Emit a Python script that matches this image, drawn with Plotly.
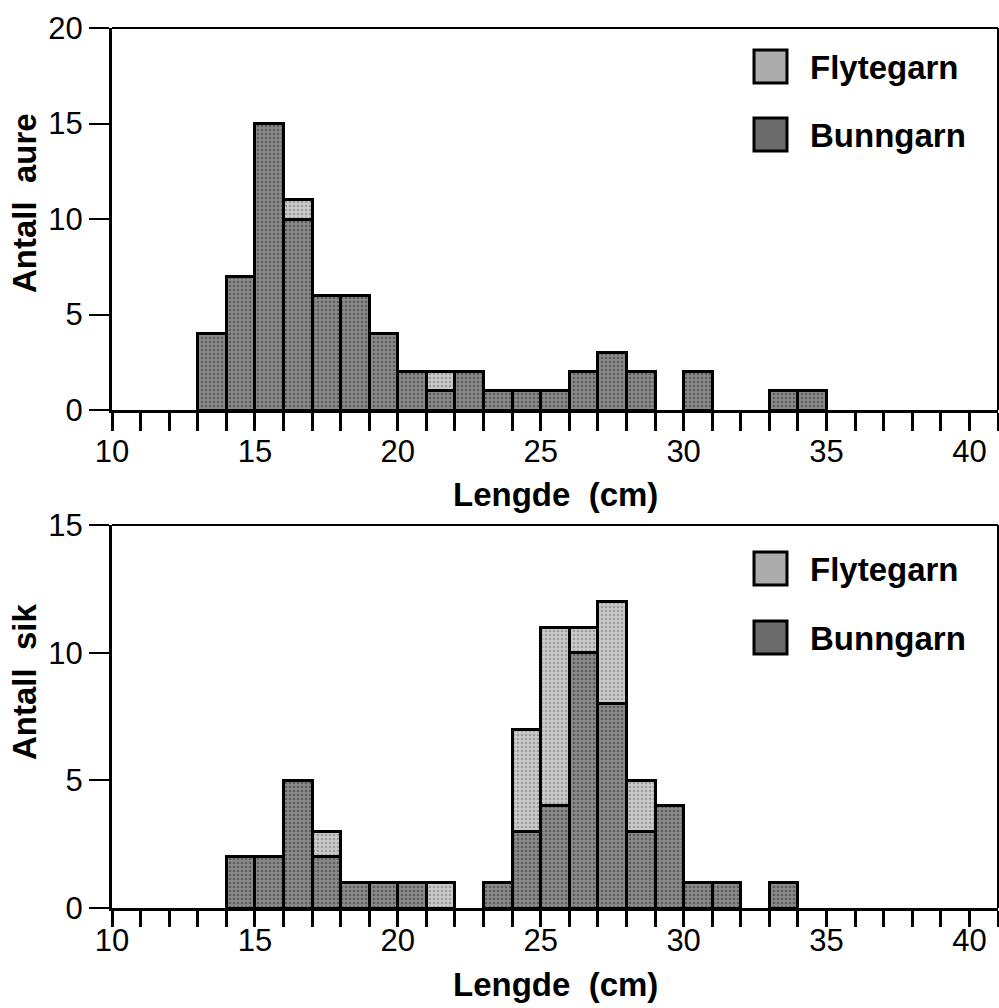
import plotly.graph_objects as go
from plotly.subplots import make_subplots

# ---- data ----
bins_aure = list(range(13, 35))  # bin left edges (cm)
aure_bunngarn = [4, 7, 15, 10, 6, 6, 4, 2, 1, 2, 1, 1, 1, 2, 3, 2, 0, 2, 0, 0, 1, 1]
aure_flytegarn = [0, 0, 0, 1, 0, 0, 0, 0, 1, 0, 0, 0, 0, 0, 0, 0, 0, 0, 0, 0, 0, 0]

bins_sik = list(range(14, 34))
sik_bunngarn = [2, 2, 5, 2, 1, 1, 1, 0, 0, 1, 3, 4, 10, 8, 3, 4, 1, 1, 0, 1]
sik_flytegarn = [0, 0, 0, 1, 0, 0, 0, 1, 0, 0, 4, 7, 1, 4, 2, 0, 0, 0, 0, 0]

x_ticks = [10, 15, 20, 25, 30, 35, 40]
legend_names = ["Flytegarn", "Bunngarn"]
x_title = "Lengde\u00a0\u00a0(cm)"
y_titles = ["Antall\u00a0\u00a0aure", "Antall\u00a0\u00a0sik"]

# ---- style ----
C_BUNN = "#6b6b6b"
C_FLYTE = "#acacac"
PAT_BUNN = dict(shape=".", fgcolor="#2e2e2e", bgcolor="#8a8a8a", size=4, solidity=0.35)
PAT_FLYTE = dict(shape=".", fgcolor="#6e6e6e", bgcolor="#cbcbcb", size=4, solidity=0.35)
FONT = "Liberation Sans, Arial, sans-serif"
TICK_SIZE = 31
BOLD_SIZE = 33

W, H = 999, 1008
ML, MR, MT, MB = 112, 1, 28, 100
PW, PH = W - ML - MR, H - MT - MB


def px_x(px):
    return (px - ML) / PW


def px_y(py):
    return (H - MB - py) / PH


fig = make_subplots(rows=2, cols=1)

def add_hist(row, bins, bunn, flyte):
    centers = [b + 0.5 for b in bins]
    fig.add_trace(go.Bar(x=centers, y=[v if v else None for v in bunn], width=1,
                         marker=dict(color=C_BUNN, pattern=PAT_BUNN,
                                     line=dict(color="black", width=3)),
                         name=legend_names[1], showlegend=False), row=row, col=1)
    fig.add_trace(go.Bar(x=centers, y=[v if v else None for v in flyte], width=1,
                         marker=dict(color=C_FLYTE, pattern=PAT_FLYTE,
                                     line=dict(color="black", width=3)),
                         name=legend_names[0], showlegend=False), row=row, col=1)

add_hist(1, bins_aure, aure_bunngarn, aure_flytegarn)
add_hist(2, bins_sik, sik_bunngarn, sik_flytegarn)

fig.update_layout(barmode="stack", width=W, height=H,
                  margin=dict(l=ML, r=MR, t=MT, b=MB),
                  plot_bgcolor="white", paper_bgcolor="white",
                  font=dict(family=FONT, color="black"))

xax = dict(range=[10, 41], tickvals=x_ticks, ticks="outside", ticklen=18, tickwidth=3,
           tickcolor="black", showline=True, linewidth=3, linecolor="black",
           showgrid=False, zeroline=False, tickfont=dict(size=TICK_SIZE, family=FONT),
           minor=dict(dtick=1, ticks="outside", ticklen=18, tickwidth=3, tickcolor="black",
                      showgrid=False))
fig.update_xaxes(**xax)
fig.update_layout(xaxis=dict(ticklabelstandoff=-6),
                  xaxis2=dict(ticklabelstandoff=-13, ticklen=16,
                              minor=dict(ticklen=16)))
fig.update_yaxes(ticks="outside", ticklen=20, tickwidth=2, tickcolor="black",
                 showline=True, linewidth=3, linecolor="black", showgrid=False,
                 zeroline=False, tickfont=dict(size=TICK_SIZE, family=FONT))

fig.update_layout(
    yaxis=dict(domain=[px_y(410), 1.0], range=[0, 20], tickvals=[0, 5, 10, 15, 20]),
    yaxis2=dict(domain=[0.0, px_y(525)], range=[0, 15], tickvals=[0, 5, 10, 15]),
)

# top / right thin frame lines
for xr, yr in [("x domain", "y domain"), ("x2 domain", "y2 domain")]:
    fig.add_shape(type="line", xref=xr, yref=yr, x0=0, x1=1, y0=1, y1=1,
                  line=dict(color="black", width=2))
    fig.add_shape(type="line", xref=xr, yref=yr, x0=1, x1=1, y0=0, y1=1,
                  line=dict(color="black", width=2))

ann = []
# x-axis titles
for py in (494, 985):
    ann.append(dict(text=x_title, x=0.5, y=px_y(py), xref="paper", yref="paper",
                    xanchor="center", yanchor="middle", showarrow=False,
                    font=dict(size=BOLD_SIZE, family=FONT, weight="bold")))
# y-axis titles
for t, py in zip(y_titles, (203, 682)):
    ann.append(dict(text=t, x=px_x(24), y=px_y(py), xref="paper", yref="paper",
                    xanchor="center", yanchor="middle", textangle=-90, showarrow=False,
                    font=dict(size=BOLD_SIZE, family=FONT, weight="bold")))

# legends
legend_rows = [(50, C_FLYTE, legend_names[0]), (118, C_BUNN, legend_names[1]),
               (552, C_FLYTE, legend_names[0]), (621, C_BUNN, legend_names[1])]
for top, col, name in legend_rows:
    fig.add_shape(type="rect", xref="paper", yref="paper",
                  x0=px_x(754), x1=px_x(787), y0=px_y(top), y1=px_y(top + 33),
                  fillcolor=col, line=dict(color="black", width=3))
    ann.append(dict(text=name, x=px_x(808), y=px_y(top + 17), xref="paper", yref="paper",
                    xanchor="left", yanchor="middle", showarrow=False,
                    font=dict(size=BOLD_SIZE, family=FONT, weight="bold")))

fig.update_layout(annotations=ann)
fig.write_html("out.html")
